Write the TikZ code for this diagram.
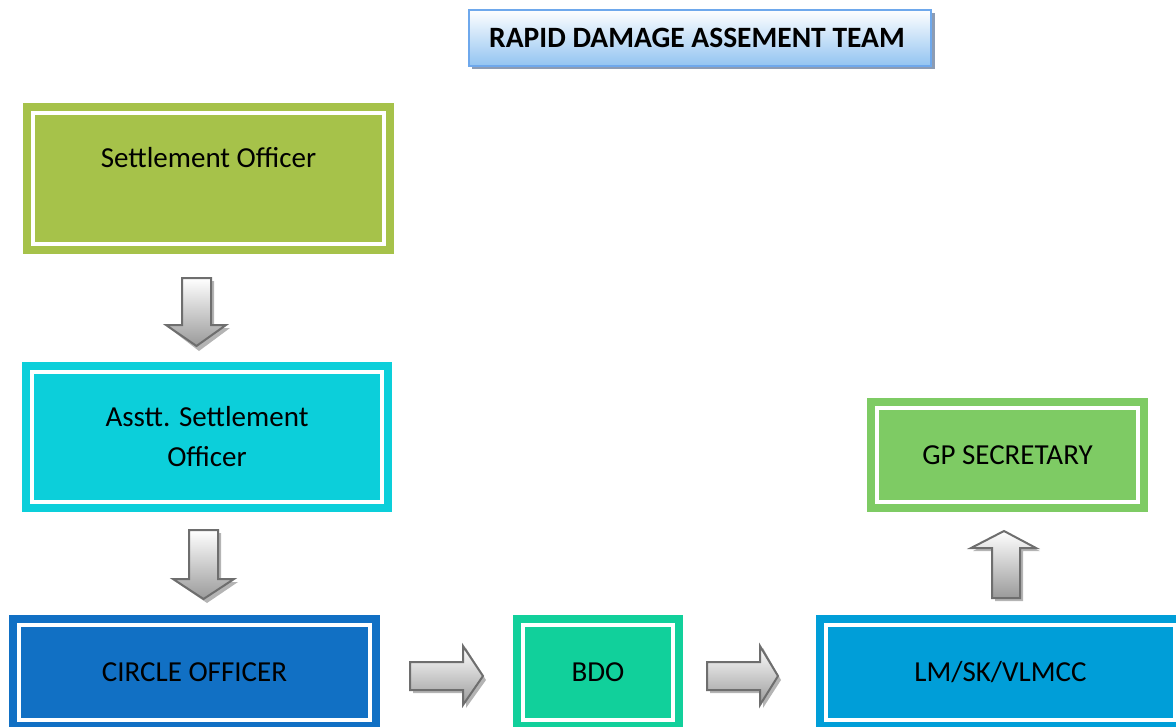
\documentclass[tikz,border=0pt]{standalone}
\usepackage{fontspec}
\setmainfont{Carlito}
\definecolor{sogreen}{HTML}{A6C24A}
\definecolor{asocyan}{HTML}{0CCFDA}
\definecolor{coblue}{HTML}{1170C4}
\definecolor{bdogreen}{HTML}{11D09B}
\definecolor{lmblue}{HTML}{009ED8}
\definecolor{gpgreen}{HTML}{7ECB64}
\definecolor{titleborder}{HTML}{6EA8EC}
\definecolor{titlebottom}{HTML}{93C4F1}
\definecolor{titleshadow}{HTML}{8C9CB4}
\definecolor{arrline}{HTML}{6E6E6E}
\definecolor{arrdark}{HTML}{9A9A9A}
\definecolor{arrshadow}{HTML}{B4B4B4}
\tikzset{
  orgbox/.style={draw=#1, fill=#1, double=white, double distance=4pt, line width=8pt,
    inner sep=0pt, align=center, font=\fontsize{29}{40}\selectfont},
  blockarr/.style={draw=arrline, line width=2pt, line join=miter,
    top color=white, bottom color=arrdark},
  arrshade/.style={fill=arrshadow, draw=none}
}
\begin{document}
\begin{tikzpicture}[x=1pt,y=-1pt]
\useasboundingbox (0,0) rectangle (1176,726);
\clip (0,0) rectangle (1176,726);
% title
\fill[titleshadow] (472,13) rectangle (935,69);
\node[draw=titleborder, line width=2pt, top color=white, bottom color=titlebottom,
  minimum width=462pt, minimum height=56pt, inner sep=0pt,
  font=\bfseries\fontsize{29.5}{34}\selectfont] (title) at (700,37.5) {\hspace*{-6pt}RAPID DAMAGE ASSEMENT TEAM};
% boxes
\node[orgbox=sogreen, minimum width=351pt, minimum height=131pt, text depth=42pt] (so) at (208.5,178.5) {Settlement Officer};
\node[orgbox=asocyan, minimum width=350pt, minimum height=130pt] (aso) at (207,437) {Asstt. Settlement\\Officer};
\node[orgbox=coblue, minimum width=351pt, minimum height=95pt] (co) at (194.5,672.5) {CIRCLE OFFICER};
\node[orgbox=bdogreen, minimum width=150pt, minimum height=95pt] (bdo) at (598,672.5) {BDO};
\node[orgbox=lmblue, minimum width=349pt, minimum height=95pt] (lm) at (1000.5,672.5) {LM/SK/VLMCC};
\node[orgbox=gpgreen, minimum width=261pt, minimum height=94pt] (gp) at (1007.5,455) {GP SECRETARY};
% down arrow 1 (so -> aso)
\fill[arrshade] (185,281) -- (214,281) -- (214,328) -- (230,328) -- (199,351) -- (169,328) -- (185,328) -- cycle;
\path[blockarr] (182,278) -- (211,278) -- (211,325) -- (226,325) -- (196.5,346) -- (166,325) -- (182,325) -- cycle;
% down arrow 2 (aso -> co)
\fill[arrshade] (192,533) -- (221,533) -- (221,582) -- (238,582) -- (207,603) -- (176,582) -- (192,582) -- cycle;
\path[blockarr] (189,530) -- (218,530) -- (218,579) -- (234,579) -- (203.5,599) -- (173,579) -- (189,579) -- cycle;
% right arrow 1 (co -> bdo)
\fill[arrshade] (413,665) -- (466,665) -- (466,648) -- (486,680) -- (466,708) -- (466,693) -- (413,693) -- cycle;
\path[blockarr] (410,662) -- (463,662) -- (463,646) -- (483,676) -- (463,705) -- (463,690) -- (410,690) -- cycle;
% right arrow 2 (bdo -> lm)
\fill[arrshade] (710,665) -- (763,665) -- (763,648) -- (781,680) -- (763,708) -- (763,693) -- (710,693) -- cycle;
\path[blockarr] (707,662) -- (760,662) -- (760,646) -- (778,676) -- (760,705) -- (760,690) -- (707,690) -- cycle;
% up arrow (lm -> gp)
\fill[arrshade] (995,601) -- (1023,601) -- (1023,551) -- (1040,551) -- (1006,534) -- (973,551) -- (995,551) -- cycle;
\path[blockarr] (992,598) -- (1020,598) -- (1020,548) -- (1036,548) -- (1004,531) -- (971,548) -- (992,548) -- cycle;
\end{tikzpicture}
\end{document}
